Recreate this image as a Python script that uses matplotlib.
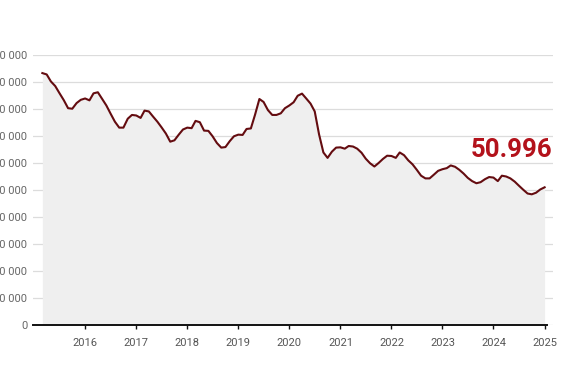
import matplotlib
matplotlib.use("Agg")
import matplotlib.pyplot as plt
import matplotlib.dates as mdates
from matplotlib.ticker import FuncFormatter
import pandas as pd

plt.rcParams['font.family'] = ['Roboto', 'DejaVu Sans']

# monthly values, Mar 2015 - Jan 2025 (in thousands)
start_month = "2015-03-01"
values_k = [
    93.3, 92.8, 90.2, 88.5, 85.9, 83.3, 80.3, 80.1, 82.2, 83.4,
    83.9, 83.2, 85.8, 86.2, 83.8, 81.3, 78.3, 75.3, 73.1, 73.1,
    76.4, 77.8, 77.6, 76.7, 79.4, 79.1, 77.2, 75.3, 73.2, 70.9,
    67.9, 68.4, 70.5, 72.4, 73.1, 72.9, 75.6, 75.1, 72.0, 71.9,
    69.9, 67.4, 65.7, 65.9, 68.1, 69.9, 70.5, 70.4, 72.6, 72.8,
    77.9, 83.7, 82.6, 79.6, 77.8, 77.8, 78.4, 80.3, 81.3, 82.5,
    84.9, 85.7, 83.9, 82.0, 79.1, 70.6, 63.9, 61.9, 64.2, 65.7,
    65.8, 65.3, 66.3, 66.1, 65.3, 63.8, 61.6, 59.9, 58.7, 60.0,
    61.5, 62.7, 62.6, 61.9, 63.9, 62.9, 61.0, 59.5, 57.5, 55.3,
    54.3, 54.3, 55.7, 57.1, 57.7, 58.1, 59.1, 58.6, 57.5, 56.1,
    54.5, 53.3, 52.5, 52.9, 54.0, 54.8, 54.6, 53.3, 55.3, 55.0,
    54.3, 53.1, 51.6, 50.1, 48.7, 48.4, 49.0, 50.2, 50.996,
]
values = [v * 1000 for v in values_k]
dates = pd.date_range(start_month, periods=len(values), freq="MS")

year_ticks = list(range(2016, 2026))
y_ticks = list(range(0, 100001, 10000))
last_label = "50.996"

fig = plt.figure(figsize=(5.62, 3.9), dpi=100)
ax = fig.add_axes([33 / 562, 65 / 390, (553 - 33) / 562, 270 / 390])

ax.fill_between(dates, values, 0, color="#efefef", lw=0)
ax.plot(dates, values, color="#640c10", lw=1.5, solid_joinstyle="round")

x0 = pd.Timestamp("2014-12-24")
x1 = pd.Timestamp("2025-03-02")
ax.set_xlim(x0, x1)
ax.set_ylim(0, 100000)

ax.set_yticks(y_ticks)
ax.yaxis.set_major_formatter(FuncFormatter(lambda v, p: f"{int(v):,}".replace(",", " ")))
ax.grid(axis="y", color="#dcdcdc", lw=0.9)
ax.set_axisbelow(True)

ax.set_xticks([pd.Timestamp(f"{y}-01-01") for y in year_ticks])
ax.xaxis.set_major_formatter(mdates.DateFormatter("%Y"))

for s in ["top", "right", "left"]:
    ax.spines[s].set_visible(False)
ax.spines["bottom"].set_color("#111111")
ax.spines["bottom"].set_linewidth(1.4)
ax.spines["bottom"].set_bounds(mdates.date2num(x0), mdates.date2num(pd.Timestamp("2025-01-17")))
ax.spines["bottom"].set_zorder(5)

ax.tick_params(axis="y", length=0, pad=4, labelsize=8, labelcolor="#666666")
ax.tick_params(axis="x", length=3, width=1, color="#111111", pad=6,
               labelsize=8, labelcolor="#555555")

fig.text(552 / 562, (390 - 157) / 390, last_label, ha="right", va="baseline",
         fontsize=18.5, fontweight="bold", color="#b3121b")

fig.savefig("out.png", dpi=100)
